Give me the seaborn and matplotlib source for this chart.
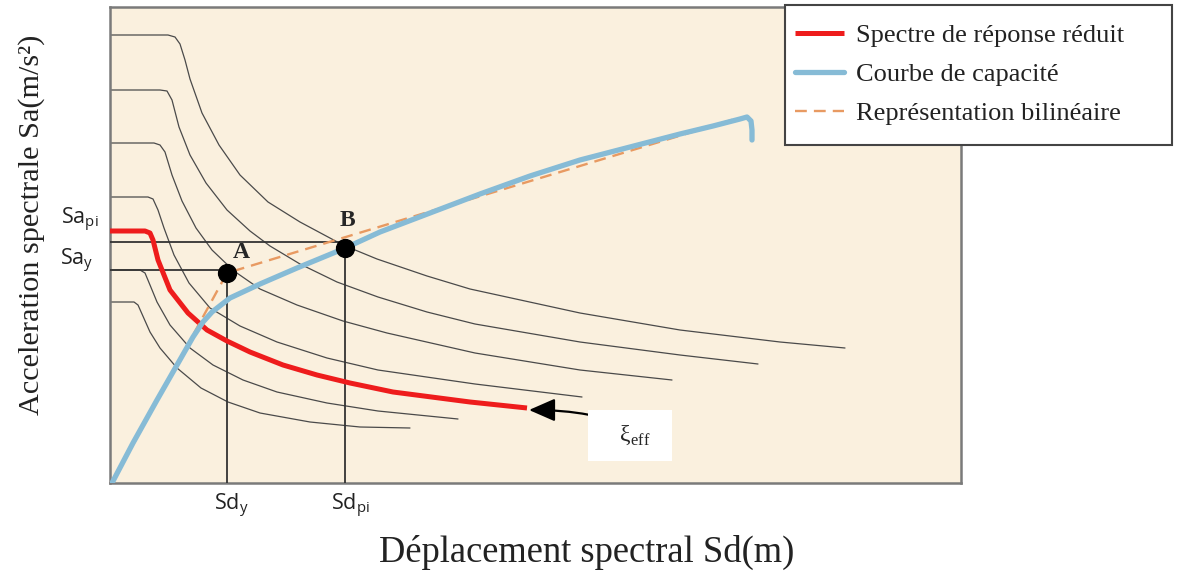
import numpy as np
import pandas as pd
import matplotlib
matplotlib.use("Agg")
import matplotlib.pyplot as plt
import seaborn as sns
from matplotlib.patches import Rectangle

# ---------------- data ----------------
# demand spectra for several damping levels (thin curves)
c1_sd = [0.00, 0.58, 0.65, 0.70, 0.75, 0.80, 0.92, 1.09, 1.30, 1.58, 1.90, 2.33, 2.67, 3.17, 3.60, 4.70, 5.70, 6.70, 7.35]
c1_sa = [4.48, 4.48, 4.46, 4.39, 4.23, 4.04, 3.70, 3.38, 3.08, 2.81, 2.61, 2.38, 2.24, 2.07, 1.94, 1.70, 1.53, 1.41, 1.35]
c2_sd = [0.00, 0.50, 0.57, 0.62, 0.69, 0.80, 0.96, 1.17, 1.40, 1.60, 1.90, 2.27, 2.68, 3.17, 3.65, 4.70, 5.70, 6.48]
c2_sa = [3.93, 3.93, 3.92, 3.83, 3.56, 3.28, 3.00, 2.73, 2.52, 2.37, 2.19, 2.01, 1.86, 1.71, 1.59, 1.41, 1.28, 1.19]
c3_sd = [0.00, 0.44, 0.50, 0.55, 0.62, 0.72, 0.86, 1.02, 1.24, 1.50, 1.87, 2.33, 2.77, 3.65, 4.70, 5.62]
c3_sa = [3.40, 3.40, 3.38, 3.31, 3.08, 2.82, 2.55, 2.33, 2.12, 1.94, 1.78, 1.62, 1.50, 1.30, 1.13, 1.03]
c4_sd = [0.00, 0.38, 0.43, 0.48, 0.54, 0.64, 0.79, 1.00, 1.30, 1.67, 2.17, 2.68, 3.65, 4.72]
c4_sa = [2.86, 2.86, 2.84, 2.73, 2.55, 2.28, 2.00, 1.75, 1.57, 1.41, 1.25, 1.13, 0.99, 0.86]
c5_sd = [0.00, 0.30, 0.35, 0.40, 0.47, 0.60, 0.80, 1.03, 1.33, 1.67, 2.17, 2.68, 3.48]
c5_sa = [2.13, 2.13, 2.10, 1.98, 1.81, 1.58, 1.35, 1.18, 1.03, 0.91, 0.80, 0.72, 0.64]
c6_sd = [0.00, 0.24, 0.28, 0.32, 0.40, 0.50, 0.67, 0.91, 1.18, 1.50, 2.00, 2.50, 3.00]
c6_sa = [1.81, 1.81, 1.78, 1.69, 1.51, 1.35, 1.15, 0.95, 0.81, 0.70, 0.61, 0.56, 0.55]

# reduced response spectrum (red)
red_sd = [0.00, 0.35, 0.40, 0.43, 0.48, 0.60, 0.78, 0.97, 1.17, 1.40, 1.73, 2.07, 2.40, 2.83, 3.60, 4.17]
red_sa = [2.52, 2.52, 2.50, 2.43, 2.23, 1.93, 1.70, 1.53, 1.42, 1.31, 1.18, 1.08, 1.00, 0.91, 0.81, 0.75]

# capacity curve (blue)
cap_sd = [0.02, 0.23, 0.47, 0.67, 0.83, 0.93, 1.02, 1.20, 1.50, 1.87, 2.33, 2.70, 3.20, 3.70,
          4.20, 4.70, 5.20, 5.70, 6.03, 6.30, 6.37, 6.41, 6.42, 6.42]
cap_sa = [0.00, 0.40, 0.83, 1.18, 1.46, 1.61, 1.71, 1.85, 1.99, 2.15, 2.34, 2.51, 2.70, 2.89,
          3.07, 3.23, 3.36, 3.49, 3.57, 3.64, 3.66, 3.62, 3.53, 3.43]

# bilinear representation (orange dashed)
bil_sd = [0.02, 1.17, 6.25]
bil_sa = [0.00, 2.10, 3.64]

# characteristic points
pt_names = ["A", "B"]
pt_sd = [1.17, 2.35]
pt_sa = [2.10, 2.35]
sa_y_line = 2.13
sa_pi_line = 2.41

legend_labels = ["Spectre de réponse réduit", "Courbe de capacité", "Représentation bilinéaire"]
x_label = "Déplacement spectral Sd(m)"
y_label = "Acceleration spectrale Sa(m/s²)"

# ---------------- styling ----------------
sns.set_style("white")
plt.rcParams["font.family"] = ["Liberation Serif", "DejaVu Serif"]
plt.rcParams["mathtext.fontset"] = "custom"
plt.rcParams["mathtext.rm"] = "Liberation Serif"

fig = plt.figure(figsize=(11.79, 5.76), dpi=100)
ax = fig.add_axes([110 / 1179, 93 / 576, 851 / 1179, 476 / 576])
ax.set_facecolor("#FAF0DE")
ax.set_xlim(0, 8.51)
ax.set_ylim(0, 4.76)

thin = "#4a4a4a"
for sd, sa in [(c1_sd, c1_sa), (c2_sd, c2_sa), (c3_sd, c3_sa),
               (c4_sd, c4_sa), (c5_sd, c5_sa), (c6_sd, c6_sa)]:
    sns.lineplot(x=sd, y=sa, ax=ax, color=thin, lw=0.9, estimator=None, sort=False, zorder=2)

# reference lines to A and B
for sd, sa, hline in zip(pt_sd, pt_sa, [sa_y_line, sa_pi_line]):
    sns.lineplot(x=[0, sd], y=[hline, hline], ax=ax, color="#333333", lw=1.3, estimator=None, sort=False, zorder=3)
    sns.lineplot(x=[sd, sd], y=[0, sa], ax=ax, color="#333333", lw=1.3, estimator=None, sort=False, zorder=3)

sns.lineplot(x=red_sd, y=red_sa, ax=ax, color="#EE1C1C", lw=3.6, estimator=None, sort=False,
             zorder=4, label=legend_labels[0], solid_capstyle="butt")
sns.lineplot(x=cap_sd, y=cap_sa, ax=ax, color="#86BBD6", lw=3.8, estimator=None, sort=False,
             zorder=6, label=legend_labels[1], solid_capstyle="round", solid_joinstyle="round")
sns.lineplot(x=bil_sd, y=bil_sa, ax=ax, color="#E89A62", lw=1.7, estimator=None, sort=False,
             zorder=5, label=legend_labels[2], linestyle=(0, (5, 3)))

sns.scatterplot(x=pt_sd, y=pt_sa, ax=ax, color="black", s=165, edgecolor="black", zorder=8)

handles, labels = ax.get_legend_handles_labels()
if ax.get_legend() is not None:
    ax.get_legend().remove()

# point labels
ax.annotate(pt_names[0], xy=(pt_sd[0], pt_sa[0]), xytext=(14, 21), textcoords="offset pixels",
            ha="center", va="center", fontsize=17, fontweight="bold", zorder=9)
ax.annotate(pt_names[1], xy=(pt_sd[1], pt_sa[1]), xytext=(2, 28), textcoords="offset pixels",
            ha="center", va="center", fontsize=17, fontweight="bold", zorder=9)

# axis side labels
sans = ["Open Sans", "DejaVu Sans"]
side_kw = dict(textcoords="offset pixels", ha="center", va="center", fontsize=15.5,
               family=sans, color="#222222", annotation_clip=False)
ax.annotate(r"Sa$_{\mathregular{pi}}$", xy=(0, sa_pi_line), xycoords=("axes fraction", "data"),
            xytext=(-30, 22), **side_kw)
ax.annotate(r"Sa$_{\mathregular{y}}$", xy=(0, sa_y_line), xycoords=("axes fraction", "data"),
            xytext=(-33, 9), **side_kw)
ax.annotate(r"Sd$_{\mathregular{y}}$", xy=(pt_sd[0], 0), xycoords=("data", "axes fraction"),
            xytext=(4, -23), **side_kw)
ax.annotate(r"Sd$_{\mathregular{pi}}$", xy=(pt_sd[1], 0), xycoords=("data", "axes fraction"),
            xytext=(5, -23), **side_kw)

# effective damping annotation
ax.annotate("   ξ$_{\\mathregular{eff}}$  ", xy=(red_sd[-1] + 0.02, red_sa[-1] - 0.02),
            xytext=(5.20, 0.475), textcoords="data", ha="center", va="center", fontsize=17,
            bbox=dict(boxstyle="square,pad=0.6", fc="white", ec="none"),
            arrowprops=dict(arrowstyle="-|>,head_length=0.8,head_width=0.35", color="black",
                            lw=1.6, connectionstyle="angle3,angleA=-55,angleB=0", shrinkA=0, shrinkB=0,
                            mutation_scale=20),
            zorder=9)

ax.set_xticks([])
ax.set_yticks([])
ax.set_xlabel(x_label, fontsize=26.3, color="#222222")
ax.set_ylabel(y_label, fontsize=21.8, color="#222222")
ax.xaxis.label.set_va("center")
ax.yaxis.label.set_va("center")
ax.xaxis.set_label_coords((587 - 110) / 851, (483 - 552) / 476)
ax.yaxis.set_label_coords((32 - 110) / 851, (483 - 225) / 476)
for s in ax.spines.values():
    s.set_color("#7a7a7a")
    s.set_linewidth(1.8)
    s.set_visible(True)

# legend box
fig.patches.append(Rectangle((785 / 1179, 1 - 145 / 576), 387 / 1179, 140 / 576,
                             transform=fig.transFigure, fc="white", ec="#444444", lw=1.5, zorder=1))
leg = fig.legend(handles, labels, loc="upper left", bbox_to_anchor=(795 / 1179, 1 - 24 / 576),
                 bbox_transform=fig.transFigure, frameon=False, fontsize=19, borderpad=0,
                 borderaxespad=0, handlelength=1.85, handletextpad=0.45, labelspacing=0.58)
for t in leg.get_texts():
    t.set_color("#222222")

fig.savefig("out.png", dpi=100, facecolor="white")
